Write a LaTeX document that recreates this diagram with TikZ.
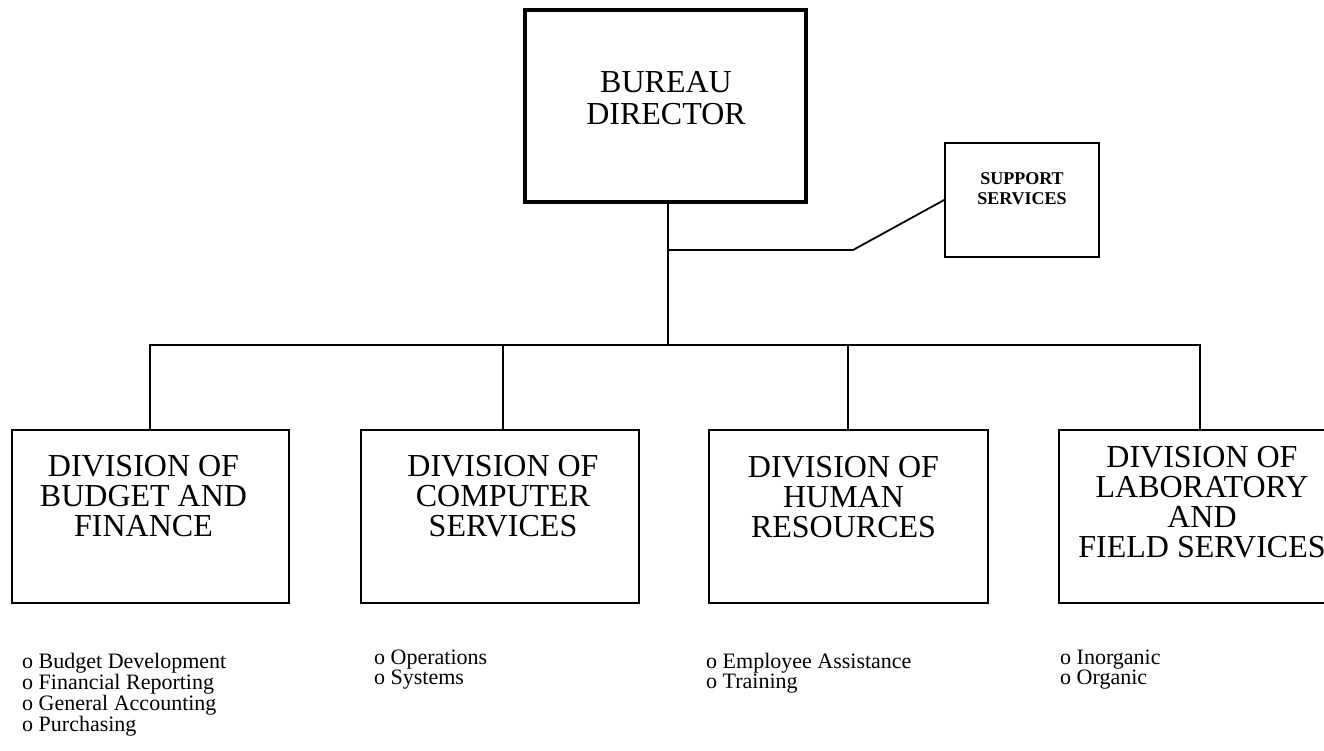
\documentclass[tikz,border=0pt]{standalone}
\usepackage{fontspec}
\setmainfont{Liberation Serif}
\begin{document}
\begin{tikzpicture}[x=1pt,y=-1pt,
  box/.style={draw, line width=1.8pt, inner sep=0pt},
  divtext/.style={align=center, font=\fontsize{32}{30}\selectfont, inner sep=0pt},
  item/.style={align=left, anchor=north west, font=\fontsize{22}{20}\selectfont, inner sep=0pt},
  wire/.style={line width=1.8pt}]
\useasboundingbox[fill=white] (0,0) rectangle (1324,751);

% Director and support office
\node[box, line width=4.5pt, minimum width=281pt, minimum height=192pt] (dir) at (665.5,106) {};
\node[align=center, font=\fontsize{32}{32}\selectfont, inner sep=0pt] (dirtext) at (666,98.5) {BUREAU\\DIRECTOR};
\node[box, minimum width=154pt, minimum height=114pt] (sup) at (1022,200) {};
\node[align=center, font=\bfseries\fontsize{18}{20}\selectfont, inner sep=0pt] (suptext) at (1022,189) {SUPPORT\\SERVICES};

% Divisions
\node[box, minimum width=277pt, minimum height=173pt] (div1) at (150.5,516.5) {};
\node[box, minimum width=278pt, minimum height=173pt] (div2) at (500,516.5) {};
\node[box, minimum width=279pt, minimum height=173pt] (div3) at (848.5,516.5) {};
\node[box, minimum width=270pt, minimum height=173pt] (div4) at (1194,516.5) {};
\node[divtext] (div1text) at (143.5,496.5) {DIVISION OF\\BUDGET AND\\FINANCE};
\node[divtext] (div2text) at (503,496) {DIVISION OF\\COMPUTER\\SERVICES};
\node[divtext] (div3text) at (843.5,497) {DIVISION OF\\HUMAN\\RESOURCES};
\node[divtext] (div4text) at (1202,502) {DIVISION OF\\LABORATORY\\AND\\FIELD SERVICES};

% Connector points
\coordinate (stem) at (668,345);
\coordinate (tap) at (668,250);
\coordinate (bend) at (853,250);
\coordinate (t1) at (150,345);
\coordinate (t2) at (503,345);
\coordinate (t3) at (848,345);
\coordinate (t4) at (1200,345);

% Connectors
\draw[wire] (dir.south -| stem) -- (stem);
\draw[wire] (tap) -- (bend) -- (sup.west);
\draw[wire, line cap=rect] (t1) -- (t4);
\draw[wire] (t1) -- (t1 |- div1.north);
\draw[wire] (t2) -- (t2 |- div2.north);
\draw[wire] (t3) -- (t3 |- div3.north);
\draw[wire] (t4) -- (t4 |- div4.north);

% Functions of each division
\node[item] (list1) at (22,653) {o Budget Development\\o Financial Reporting\\o General Accounting\\o Purchasing};
\node[item] (list2) at (374,650) {o Operations\\o Systems};
\node[item] (list3) at (706,653) {o Employee Assistance\\o Training};
\node[item] (list4) at (1060,650) {o Inorganic\\o Organic};
\end{tikzpicture}
\end{document}
